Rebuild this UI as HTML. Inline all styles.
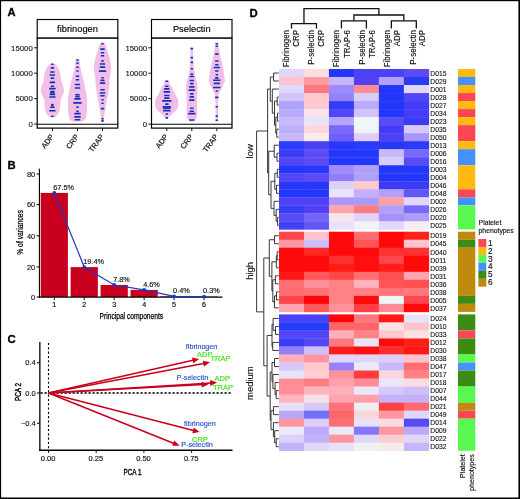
<!DOCTYPE html>
<html><head><meta charset="utf-8"><style>
html,body{margin:0;padding:0;background:#fff;width:520px;height:499px;overflow:hidden;font-family:"Liberation Sans",sans-serif;}
</style></head><body>
<svg width="520" height="499" viewBox="0 0 520 499" style="display:block;will-change:transform">
<g font-family='"Liberation Sans", sans-serif'>
<rect x="0.00" y="0.00" width="520.00" height="499.00" fill="#fff"/>
<text x="7.60" y="16.20" font-size="11.2" text-anchor="start" fill="#000" font-weight="bold" stroke="#000" stroke-width="0.3">A</text>
<rect x="37.20" y="19.5" width="80.60" height="18.6" fill="#fff" stroke="#000" stroke-width="1.15"/>
<text x="77.50" y="31.60" font-size="9.3" text-anchor="middle" fill="#000" stroke="#000" stroke-width="0.15">fibrinogen</text>
<rect x="37.20" y="38.2" width="80.60" height="89.9" fill="#fff" stroke="#000" stroke-width="1.2"/>
<line x1="34.00" y1="124.10" x2="37.20" y2="124.10" stroke="#000" stroke-width="0.9"/>
<text x="32.80" y="126.90" font-size="7.8" text-anchor="end" fill="#222" stroke="#222" stroke-width="0.15">0</text>
<line x1="34.00" y1="98.66" x2="37.20" y2="98.66" stroke="#000" stroke-width="0.9"/>
<text x="32.80" y="101.46" font-size="7.8" text-anchor="end" fill="#222" stroke="#222" stroke-width="0.15">5000</text>
<line x1="34.00" y1="73.23" x2="37.20" y2="73.23" stroke="#000" stroke-width="0.9"/>
<text x="32.80" y="76.03" font-size="7.8" text-anchor="end" fill="#222" stroke="#222" stroke-width="0.15">10000</text>
<line x1="34.00" y1="47.79" x2="37.20" y2="47.79" stroke="#000" stroke-width="0.9"/>
<text x="32.80" y="50.59" font-size="7.8" text-anchor="end" fill="#222" stroke="#222" stroke-width="0.15">15000</text>
<line x1="52.50" y1="128.10" x2="52.50" y2="131.20" stroke="#000" stroke-width="0.9"/>
<text x="54.30" y="136.80" font-size="7.5" text-anchor="end" fill="#1a1a1a" transform="rotate(-53 54.30 136.80)" stroke="#1a1a1a" stroke-width="0.22">ADP</text>
<line x1="77.50" y1="128.10" x2="77.50" y2="131.20" stroke="#000" stroke-width="0.9"/>
<text x="79.30" y="136.80" font-size="7.5" text-anchor="end" fill="#1a1a1a" transform="rotate(-53 79.30 136.80)" stroke="#1a1a1a" stroke-width="0.22">CRP</text>
<line x1="102.50" y1="128.10" x2="102.50" y2="131.20" stroke="#000" stroke-width="0.9"/>
<text x="104.30" y="136.80" font-size="7.5" text-anchor="end" fill="#1a1a1a" transform="rotate(-53 104.30 136.80)" stroke="#1a1a1a" stroke-width="0.22">TRAP</text>
<rect x="151.50" y="19.5" width="80.50" height="18.6" fill="#fff" stroke="#000" stroke-width="1.15"/>
<text x="191.75" y="31.60" font-size="9.3" text-anchor="middle" fill="#000" stroke="#000" stroke-width="0.15">Pselectin</text>
<rect x="151.50" y="38.2" width="80.50" height="89.9" fill="#fff" stroke="#000" stroke-width="1.2"/>
<line x1="148.30" y1="124.10" x2="151.50" y2="124.10" stroke="#000" stroke-width="0.9"/>
<text x="147.10" y="126.90" font-size="7.8" text-anchor="end" fill="#222" stroke="#222" stroke-width="0.15">0</text>
<line x1="148.30" y1="98.66" x2="151.50" y2="98.66" stroke="#000" stroke-width="0.9"/>
<text x="147.10" y="101.46" font-size="7.8" text-anchor="end" fill="#222" stroke="#222" stroke-width="0.15">5000</text>
<line x1="148.30" y1="73.23" x2="151.50" y2="73.23" stroke="#000" stroke-width="0.9"/>
<text x="147.10" y="76.03" font-size="7.8" text-anchor="end" fill="#222" stroke="#222" stroke-width="0.15">10000</text>
<line x1="148.30" y1="47.79" x2="151.50" y2="47.79" stroke="#000" stroke-width="0.9"/>
<text x="147.10" y="50.59" font-size="7.8" text-anchor="end" fill="#222" stroke="#222" stroke-width="0.15">15000</text>
<line x1="166.80" y1="128.10" x2="166.80" y2="131.20" stroke="#000" stroke-width="0.9"/>
<text x="168.60" y="136.80" font-size="7.5" text-anchor="end" fill="#1a1a1a" transform="rotate(-53 168.60 136.80)" stroke="#1a1a1a" stroke-width="0.22">ADP</text>
<line x1="191.80" y1="128.10" x2="191.80" y2="131.20" stroke="#000" stroke-width="0.9"/>
<text x="193.60" y="136.80" font-size="7.5" text-anchor="end" fill="#1a1a1a" transform="rotate(-53 193.60 136.80)" stroke="#1a1a1a" stroke-width="0.22">CRP</text>
<line x1="216.80" y1="128.10" x2="216.80" y2="131.20" stroke="#000" stroke-width="0.9"/>
<text x="218.60" y="136.80" font-size="7.5" text-anchor="end" fill="#1a1a1a" transform="rotate(-53 218.60 136.80)" stroke="#1a1a1a" stroke-width="0.22">TRAP</text>
<path d="M52.40,63.40 C52.73,63.47 53.90,63.65 54.40,63.80 C54.90,63.95 54.98,63.97 55.40,64.30 C55.82,64.63 56.42,65.15 56.90,65.80 C57.38,66.45 57.87,67.30 58.30,68.20 C58.73,69.10 59.15,70.20 59.50,71.20 C59.85,72.20 60.18,73.20 60.40,74.20 C60.62,75.20 60.68,76.20 60.80,77.20 C60.92,78.20 60.90,79.18 61.10,80.20 C61.30,81.22 61.67,82.28 62.00,83.30 C62.33,84.32 62.78,85.30 63.10,86.30 C63.42,87.30 63.77,88.38 63.90,89.30 C64.03,90.22 64.05,90.95 63.90,91.80 C63.75,92.65 63.37,93.53 63.00,94.40 C62.63,95.27 62.08,96.15 61.70,97.00 C61.32,97.85 60.93,98.55 60.70,99.50 C60.47,100.45 60.40,101.62 60.30,102.70 C60.20,103.78 60.18,104.92 60.10,106.00 C60.02,107.08 60.02,108.13 59.80,109.20 C59.58,110.27 59.20,111.45 58.80,112.40 C58.40,113.35 57.88,114.22 57.40,114.90 C56.92,115.58 56.48,116.08 55.90,116.50 C55.32,116.92 54.48,117.22 53.90,117.40 C53.32,117.58 52.65,117.57 52.40,117.60 C52.15,117.57 51.48,117.58 50.90,117.40 C50.32,117.22 49.48,116.92 48.90,116.50 C48.32,116.08 47.88,115.58 47.40,114.90 C46.92,114.22 46.40,113.35 46.00,112.40 C45.60,111.45 45.22,110.27 45.00,109.20 C44.78,108.13 44.78,107.08 44.70,106.00 C44.62,104.92 44.60,103.78 44.50,102.70 C44.40,101.62 44.33,100.45 44.10,99.50 C43.87,98.55 43.48,97.85 43.10,97.00 C42.72,96.15 42.17,95.27 41.80,94.40 C41.43,93.53 41.05,92.65 40.90,91.80 C40.75,90.95 40.77,90.22 40.90,89.30 C41.03,88.38 41.38,87.30 41.70,86.30 C42.02,85.30 42.47,84.32 42.80,83.30 C43.13,82.28 43.50,81.22 43.70,80.20 C43.90,79.18 43.88,78.20 44.00,77.20 C44.12,76.20 44.18,75.20 44.40,74.20 C44.62,73.20 44.95,72.20 45.30,71.20 C45.65,70.20 46.07,69.10 46.50,68.20 C46.93,67.30 47.42,66.45 47.90,65.80 C48.38,65.15 48.98,64.63 49.40,64.30 C49.82,63.97 49.90,63.95 50.40,63.80 C50.90,63.65 52.07,63.47 52.40,63.40Z" fill="#f2bee8"/>
<path d="M77.50,59.30 C77.75,59.35 78.67,59.48 79.00,59.60 C79.33,59.72 79.37,59.37 79.50,60.00 C79.63,60.63 79.63,62.13 79.80,63.40 C79.97,64.67 80.27,66.20 80.50,67.60 C80.73,69.00 80.88,70.40 81.20,71.80 C81.52,73.20 82.02,74.58 82.40,76.00 C82.78,77.42 83.15,78.88 83.50,80.30 C83.85,81.72 84.22,83.10 84.50,84.50 C84.78,85.90 85.02,87.75 85.20,88.70 C85.38,89.65 85.37,89.12 85.60,90.20 C85.83,91.28 86.35,93.17 86.60,95.20 C86.85,97.23 87.05,100.00 87.10,102.40 C87.15,104.80 87.03,107.43 86.90,109.60 C86.77,111.77 86.57,113.83 86.30,115.40 C86.03,116.97 85.72,118.10 85.30,119.00 C84.88,119.90 84.43,120.40 83.80,120.80 C83.17,121.20 82.55,121.27 81.50,121.40 C80.45,121.53 78.17,121.57 77.50,121.60 C76.83,121.57 74.55,121.53 73.50,121.40 C72.45,121.27 71.83,121.20 71.20,120.80 C70.57,120.40 70.12,119.90 69.70,119.00 C69.28,118.10 68.97,116.97 68.70,115.40 C68.43,113.83 68.23,111.77 68.10,109.60 C67.97,107.43 67.85,104.80 67.90,102.40 C67.95,100.00 68.15,97.23 68.40,95.20 C68.65,93.17 69.17,91.28 69.40,90.20 C69.63,89.12 69.62,89.65 69.80,88.70 C69.98,87.75 70.22,85.90 70.50,84.50 C70.78,83.10 71.15,81.72 71.50,80.30 C71.85,78.88 72.22,77.42 72.60,76.00 C72.98,74.58 73.48,73.20 73.80,71.80 C74.12,70.40 74.27,69.00 74.50,67.60 C74.73,66.20 75.03,64.67 75.20,63.40 C75.37,62.13 75.37,60.63 75.50,60.00 C75.63,59.37 75.67,59.72 76.00,59.60 C76.33,59.48 77.25,59.35 77.50,59.30Z" fill="#f2bee8"/>
<path d="M102.50,42.30 C102.75,42.33 103.67,42.38 104.00,42.50 C104.33,42.62 104.22,42.58 104.50,43.00 C104.78,43.42 105.33,44.10 105.70,45.00 C106.07,45.90 106.32,47.13 106.70,48.40 C107.08,49.67 107.58,51.20 108.00,52.60 C108.42,54.00 108.82,55.40 109.20,56.80 C109.58,58.20 110.02,59.60 110.30,61.00 C110.58,62.40 110.78,63.80 110.90,65.20 C111.02,66.60 111.08,68.00 111.00,69.40 C110.92,70.80 110.62,72.20 110.40,73.60 C110.18,75.00 109.85,76.65 109.70,77.80 C109.55,78.95 109.57,79.25 109.50,80.50 C109.43,81.75 109.47,83.62 109.30,85.30 C109.13,86.98 108.77,88.85 108.50,90.60 C108.23,92.35 108.00,94.05 107.70,95.80 C107.40,97.55 107.02,99.33 106.70,101.10 C106.38,102.87 106.10,104.63 105.80,106.40 C105.50,108.17 105.20,109.93 104.90,111.70 C104.60,113.47 104.22,115.38 104.00,117.00 C103.78,118.62 103.85,120.55 103.60,121.40 C103.35,122.25 102.68,121.98 102.50,122.10 C102.32,121.98 101.65,122.25 101.40,121.40 C101.15,120.55 101.22,118.62 101.00,117.00 C100.78,115.38 100.40,113.47 100.10,111.70 C99.80,109.93 99.50,108.17 99.20,106.40 C98.90,104.63 98.62,102.87 98.30,101.10 C97.98,99.33 97.60,97.55 97.30,95.80 C97.00,94.05 96.77,92.35 96.50,90.60 C96.23,88.85 95.87,86.98 95.70,85.30 C95.53,83.62 95.57,81.75 95.50,80.50 C95.43,79.25 95.45,78.95 95.30,77.80 C95.15,76.65 94.82,75.00 94.60,73.60 C94.38,72.20 94.08,70.80 94.00,69.40 C93.92,68.00 93.98,66.60 94.10,65.20 C94.22,63.80 94.42,62.40 94.70,61.00 C94.98,59.60 95.42,58.20 95.80,56.80 C96.18,55.40 96.58,54.00 97.00,52.60 C97.42,51.20 97.92,49.67 98.30,48.40 C98.68,47.13 98.93,45.90 99.30,45.00 C99.67,44.10 100.22,43.42 100.50,43.00 C100.78,42.58 100.67,42.62 101.00,42.50 C101.33,42.38 102.25,42.33 102.50,42.30Z" fill="#f2bee8"/>
<path d="M166.80,80.30 C167.13,80.35 168.33,80.08 168.80,80.60 C169.27,81.12 169.13,82.32 169.60,83.40 C170.07,84.48 170.95,85.88 171.60,87.10 C172.25,88.32 172.88,89.48 173.50,90.70 C174.12,91.92 174.65,93.17 175.30,94.40 C175.95,95.63 176.90,96.87 177.40,98.10 C177.90,99.33 178.13,100.57 178.30,101.80 C178.47,103.03 178.62,104.27 178.40,105.50 C178.18,106.73 177.68,108.12 177.00,109.20 C176.32,110.28 175.25,111.08 174.30,112.00 C173.35,112.92 172.22,113.78 171.30,114.70 C170.38,115.62 169.55,116.80 168.80,117.50 C168.05,118.20 167.13,118.67 166.80,118.90 C166.47,118.67 165.55,118.20 164.80,117.50 C164.05,116.80 163.22,115.62 162.30,114.70 C161.38,113.78 160.25,112.92 159.30,112.00 C158.35,111.08 157.28,110.28 156.60,109.20 C155.92,108.12 155.42,106.73 155.20,105.50 C154.98,104.27 155.13,103.03 155.30,101.80 C155.47,100.57 155.70,99.33 156.20,98.10 C156.70,96.87 157.65,95.63 158.30,94.40 C158.95,93.17 159.48,91.92 160.10,90.70 C160.72,89.48 161.35,88.32 162.00,87.10 C162.65,85.88 163.53,84.48 164.00,83.40 C164.47,82.32 164.33,81.12 164.80,80.60 C165.27,80.08 166.47,80.35 166.80,80.30Z" fill="#f2bee8"/>
<path d="M191.80,47.20 C192.05,47.27 193.08,46.80 193.30,47.60 C193.52,48.40 193.08,49.93 193.10,52.00 C193.12,54.07 193.28,57.60 193.40,60.00 C193.52,62.40 193.60,64.38 193.80,66.40 C194.00,68.42 194.27,70.22 194.60,72.10 C194.93,73.98 195.40,75.83 195.80,77.70 C196.20,79.57 196.73,81.92 197.00,83.30 C197.27,84.68 197.33,84.78 197.40,86.00 C197.47,87.22 197.45,88.67 197.40,90.60 C197.35,92.53 197.18,95.27 197.10,97.60 C197.02,99.93 196.93,102.25 196.90,104.60 C196.87,106.95 196.90,109.63 196.90,111.70 C196.90,113.77 197.17,115.62 196.90,117.00 C196.63,118.38 195.90,119.28 195.30,120.00 C194.70,120.72 193.88,121.05 193.30,121.30 C192.72,121.55 192.05,121.47 191.80,121.50 C191.55,121.47 190.88,121.55 190.30,121.30 C189.72,121.05 188.90,120.72 188.30,120.00 C187.70,119.28 186.97,118.38 186.70,117.00 C186.43,115.62 186.70,113.77 186.70,111.70 C186.70,109.63 186.73,106.95 186.70,104.60 C186.67,102.25 186.58,99.93 186.50,97.60 C186.42,95.27 186.25,92.53 186.20,90.60 C186.15,88.67 186.13,87.22 186.20,86.00 C186.27,84.78 186.33,84.68 186.60,83.30 C186.87,81.92 187.40,79.57 187.80,77.70 C188.20,75.83 188.67,73.98 189.00,72.10 C189.33,70.22 189.60,68.42 189.80,66.40 C190.00,64.38 190.08,62.40 190.20,60.00 C190.32,57.60 190.48,54.07 190.50,52.00 C190.52,49.93 190.08,48.40 190.30,47.60 C190.52,46.80 191.55,47.27 191.80,47.20Z" fill="#f2bee8"/>
<path d="M216.80,42.80 C217.05,42.85 218.00,42.40 218.30,43.10 C218.60,43.80 218.42,45.62 218.60,47.00 C218.78,48.38 219.13,49.93 219.40,51.40 C219.67,52.87 219.85,54.18 220.20,55.80 C220.55,57.42 221.08,59.33 221.50,61.10 C221.92,62.87 222.37,64.63 222.70,66.40 C223.03,68.17 223.20,69.85 223.50,71.70 C223.80,73.55 224.27,75.98 224.50,77.50 C224.73,79.02 225.02,79.80 224.90,80.80 C224.78,81.80 224.22,82.47 223.80,83.50 C223.38,84.53 222.95,85.82 222.40,87.00 C221.85,88.18 221.10,89.42 220.50,90.60 C219.90,91.78 219.17,92.93 218.80,94.10 C218.43,95.27 218.43,95.55 218.30,97.60 C218.17,99.65 218.05,103.47 218.00,106.40 C217.95,109.33 218.00,112.85 218.00,115.20 C218.00,117.55 218.20,119.47 218.00,120.50 C217.80,121.53 217.00,121.25 216.80,121.40 C216.60,121.25 215.80,121.53 215.60,120.50 C215.40,119.47 215.60,117.55 215.60,115.20 C215.60,112.85 215.65,109.33 215.60,106.40 C215.55,103.47 215.43,99.65 215.30,97.60 C215.17,95.55 215.17,95.27 214.80,94.10 C214.43,92.93 213.70,91.78 213.10,90.60 C212.50,89.42 211.75,88.18 211.20,87.00 C210.65,85.82 210.22,84.53 209.80,83.50 C209.38,82.47 208.82,81.80 208.70,80.80 C208.58,79.80 208.87,79.02 209.10,77.50 C209.33,75.98 209.80,73.55 210.10,71.70 C210.40,69.85 210.57,68.17 210.90,66.40 C211.23,64.63 211.68,62.87 212.10,61.10 C212.52,59.33 213.05,57.42 213.40,55.80 C213.75,54.18 213.93,52.87 214.20,51.40 C214.47,49.93 214.82,48.38 215.00,47.00 C215.18,45.62 215.00,43.80 215.30,43.10 C215.60,42.40 216.55,42.85 216.80,42.80Z" fill="#f2bee8"/>
<rect x="51.15" y="63.47" width="2.50" height="1.65" rx="0.5" fill="#1432b8"/>
<rect x="50.65" y="67.08" width="3.50" height="1.65" rx="0.5" fill="#1432b8"/>
<rect x="50.15" y="71.17" width="4.50" height="1.65" rx="0.5" fill="#1432b8"/>
<rect x="49.65" y="74.17" width="5.50" height="1.65" rx="0.5" fill="#1432b8"/>
<rect x="50.65" y="77.27" width="3.50" height="1.65" rx="0.5" fill="#1432b8"/>
<rect x="49.65" y="81.58" width="5.50" height="1.65" rx="0.5" fill="#1432b8"/>
<rect x="50.65" y="85.47" width="3.50" height="1.65" rx="0.5" fill="#1432b8"/>
<rect x="49.15" y="87.77" width="6.50" height="1.65" rx="0.5" fill="#1432b8"/>
<rect x="50.15" y="90.77" width="4.50" height="1.65" rx="0.5" fill="#1432b8"/>
<rect x="50.15" y="91.97" width="4.50" height="1.65" rx="0.5" fill="#1432b8"/>
<rect x="49.65" y="93.58" width="5.50" height="1.65" rx="0.5" fill="#1432b8"/>
<rect x="49.15" y="96.17" width="6.50" height="1.65" rx="0.5" fill="#1432b8"/>
<rect x="51.15" y="103.67" width="2.50" height="1.65" rx="0.5" fill="#1432b8"/>
<rect x="51.15" y="104.77" width="2.50" height="1.65" rx="0.5" fill="#1432b8"/>
<rect x="50.15" y="106.38" width="4.50" height="1.65" rx="0.5" fill="#1432b8"/>
<rect x="49.15" y="109.97" width="6.50" height="1.65" rx="0.5" fill="#1432b8"/>
<rect x="51.15" y="115.38" width="2.50" height="1.65" rx="0.5" fill="#1432b8"/>
<rect x="76.25" y="59.17" width="2.50" height="1.65" rx="0.5" fill="#1432b8"/>
<rect x="76.25" y="62.47" width="2.50" height="1.65" rx="0.5" fill="#1432b8"/>
<rect x="76.25" y="66.47" width="2.50" height="1.65" rx="0.5" fill="#1432b8"/>
<rect x="76.25" y="70.17" width="2.50" height="1.65" rx="0.5" fill="#1432b8"/>
<rect x="75.75" y="75.38" width="3.50" height="1.65" rx="0.5" fill="#1432b8"/>
<rect x="75.75" y="78.88" width="3.50" height="1.65" rx="0.5" fill="#1432b8"/>
<rect x="74.75" y="83.67" width="5.50" height="1.65" rx="0.5" fill="#1432b8"/>
<rect x="74.75" y="87.17" width="5.50" height="1.65" rx="0.5" fill="#1432b8"/>
<rect x="75.25" y="93.88" width="4.50" height="1.65" rx="0.5" fill="#1432b8"/>
<rect x="75.25" y="95.77" width="4.50" height="1.65" rx="0.5" fill="#1432b8"/>
<rect x="74.25" y="98.08" width="6.50" height="1.65" rx="0.5" fill="#1432b8"/>
<rect x="73.25" y="102.08" width="8.50" height="1.65" rx="0.5" fill="#1432b8"/>
<rect x="76.25" y="106.27" width="2.50" height="1.65" rx="0.5" fill="#1432b8"/>
<rect x="76.25" y="110.58" width="2.50" height="1.65" rx="0.5" fill="#1432b8"/>
<rect x="74.25" y="112.77" width="6.50" height="1.65" rx="0.5" fill="#1432b8"/>
<rect x="74.25" y="116.08" width="6.50" height="1.65" rx="0.5" fill="#1432b8"/>
<rect x="74.75" y="118.88" width="5.50" height="1.65" rx="0.5" fill="#1432b8"/>
<rect x="101.25" y="42.97" width="2.50" height="1.65" rx="0.5" fill="#1432b8"/>
<rect x="100.25" y="48.27" width="4.50" height="1.65" rx="0.5" fill="#1432b8"/>
<rect x="100.75" y="51.97" width="3.50" height="1.65" rx="0.5" fill="#1432b8"/>
<rect x="100.75" y="54.97" width="3.50" height="1.65" rx="0.5" fill="#1432b8"/>
<rect x="101.25" y="60.07" width="2.50" height="1.65" rx="0.5" fill="#1432b8"/>
<rect x="99.75" y="63.17" width="5.50" height="1.65" rx="0.5" fill="#1432b8"/>
<rect x="99.75" y="66.27" width="5.50" height="1.65" rx="0.5" fill="#1432b8"/>
<rect x="98.75" y="70.27" width="7.50" height="1.65" rx="0.5" fill="#1432b8"/>
<rect x="101.25" y="76.88" width="2.50" height="1.65" rx="0.5" fill="#1432b8"/>
<rect x="100.45" y="79.58" width="4.10" height="1.65" rx="0.5" fill="#1432b8"/>
<rect x="99.75" y="82.27" width="5.50" height="1.65" rx="0.5" fill="#1432b8"/>
<rect x="100.25" y="88.88" width="4.50" height="1.65" rx="0.5" fill="#1432b8"/>
<rect x="99.75" y="92.17" width="5.50" height="1.65" rx="0.5" fill="#1432b8"/>
<rect x="100.25" y="94.97" width="4.50" height="1.65" rx="0.5" fill="#1432b8"/>
<rect x="101.25" y="98.97" width="2.50" height="1.65" rx="0.5" fill="#1432b8"/>
<rect x="101.25" y="102.47" width="2.50" height="1.65" rx="0.5" fill="#1432b8"/>
<rect x="100.75" y="107.77" width="3.50" height="1.65" rx="0.5" fill="#1432b8"/>
<rect x="101.25" y="117.88" width="2.50" height="1.65" rx="0.5" fill="#1432b8"/>
<rect x="101.25" y="120.08" width="2.50" height="1.65" rx="0.5" fill="#1432b8"/>
<rect x="165.35" y="80.47" width="2.90" height="1.65" rx="0.5" fill="#1432b8"/>
<rect x="165.05" y="85.47" width="3.50" height="1.65" rx="0.5" fill="#1432b8"/>
<rect x="164.05" y="88.08" width="5.50" height="1.65" rx="0.5" fill="#1432b8"/>
<rect x="163.55" y="91.08" width="6.50" height="1.65" rx="0.5" fill="#1432b8"/>
<rect x="164.05" y="94.67" width="5.50" height="1.65" rx="0.5" fill="#1432b8"/>
<rect x="164.05" y="97.27" width="5.50" height="1.65" rx="0.5" fill="#1432b8"/>
<rect x="162.05" y="100.08" width="9.50" height="1.65" rx="0.5" fill="#1432b8"/>
<rect x="165.05" y="103.27" width="3.50" height="1.65" rx="0.5" fill="#1432b8"/>
<rect x="162.55" y="106.08" width="8.50" height="1.65" rx="0.5" fill="#1432b8"/>
<rect x="163.05" y="107.47" width="7.50" height="1.65" rx="0.5" fill="#1432b8"/>
<rect x="163.05" y="109.77" width="7.50" height="1.65" rx="0.5" fill="#1432b8"/>
<rect x="165.55" y="113.17" width="2.50" height="1.65" rx="0.5" fill="#1432b8"/>
<rect x="165.55" y="117.08" width="2.50" height="1.65" rx="0.5" fill="#1432b8"/>
<rect x="190.55" y="47.77" width="2.50" height="1.65" rx="0.5" fill="#1432b8"/>
<rect x="190.55" y="56.77" width="2.50" height="1.65" rx="0.5" fill="#1432b8"/>
<rect x="190.55" y="61.57" width="2.50" height="1.65" rx="0.5" fill="#1432b8"/>
<rect x="190.55" y="67.97" width="2.50" height="1.65" rx="0.5" fill="#1432b8"/>
<rect x="190.55" y="73.27" width="2.50" height="1.65" rx="0.5" fill="#1432b8"/>
<rect x="189.55" y="75.67" width="4.50" height="1.65" rx="0.5" fill="#1432b8"/>
<rect x="189.55" y="79.67" width="4.50" height="1.65" rx="0.5" fill="#1432b8"/>
<rect x="190.05" y="82.77" width="3.50" height="1.65" rx="0.5" fill="#1432b8"/>
<rect x="189.05" y="86.08" width="5.50" height="1.65" rx="0.5" fill="#1432b8"/>
<rect x="188.55" y="89.27" width="6.50" height="1.65" rx="0.5" fill="#1432b8"/>
<rect x="190.05" y="93.08" width="3.50" height="1.65" rx="0.5" fill="#1432b8"/>
<rect x="189.55" y="96.08" width="4.50" height="1.65" rx="0.5" fill="#1432b8"/>
<rect x="189.05" y="99.27" width="5.50" height="1.65" rx="0.5" fill="#1432b8"/>
<rect x="190.05" y="107.47" width="3.50" height="1.65" rx="0.5" fill="#1432b8"/>
<rect x="189.55" y="110.47" width="4.50" height="1.65" rx="0.5" fill="#1432b8"/>
<rect x="188.05" y="112.77" width="7.50" height="1.65" rx="0.5" fill="#1432b8"/>
<rect x="189.05" y="119.17" width="5.50" height="1.65" rx="0.5" fill="#1432b8"/>
<rect x="215.55" y="42.88" width="2.50" height="1.65" rx="0.5" fill="#1432b8"/>
<rect x="215.55" y="45.47" width="2.50" height="1.65" rx="0.5" fill="#1432b8"/>
<rect x="215.05" y="53.27" width="3.50" height="1.65" rx="0.5" fill="#1432b8"/>
<rect x="215.05" y="60.17" width="3.50" height="1.65" rx="0.5" fill="#1432b8"/>
<rect x="215.05" y="63.97" width="3.50" height="1.65" rx="0.5" fill="#1432b8"/>
<rect x="213.55" y="66.67" width="6.50" height="1.65" rx="0.5" fill="#1432b8"/>
<rect x="215.05" y="70.17" width="3.50" height="1.65" rx="0.5" fill="#1432b8"/>
<rect x="215.55" y="73.97" width="2.50" height="1.65" rx="0.5" fill="#1432b8"/>
<rect x="215.05" y="77.08" width="3.50" height="1.65" rx="0.5" fill="#1432b8"/>
<rect x="213.05" y="79.38" width="7.50" height="1.65" rx="0.5" fill="#1432b8"/>
<rect x="213.55" y="82.58" width="6.50" height="1.65" rx="0.5" fill="#1432b8"/>
<rect x="213.05" y="86.67" width="7.50" height="1.65" rx="0.5" fill="#1432b8"/>
<rect x="215.55" y="90.17" width="2.50" height="1.65" rx="0.5" fill="#1432b8"/>
<rect x="215.05" y="96.58" width="3.50" height="1.65" rx="0.5" fill="#1432b8"/>
<rect x="215.55" y="105.97" width="2.50" height="1.65" rx="0.5" fill="#1432b8"/>
<rect x="215.55" y="115.27" width="2.50" height="1.65" rx="0.5" fill="#1432b8"/>
<rect x="215.55" y="119.47" width="2.50" height="1.65" rx="0.5" fill="#1432b8"/>
<line x1="37.20" y1="124.20" x2="117.80" y2="124.20" stroke="#000" stroke-width="1.1"/>
<line x1="151.50" y1="124.20" x2="232.00" y2="124.20" stroke="#000" stroke-width="1.1"/>
<text x="7.60" y="169.00" font-size="11.3" text-anchor="start" fill="#000" font-weight="bold" stroke="#000" stroke-width="0.3">B</text>
<rect x="40.70" y="192.91" width="27.20" height="104.09" fill="#c8001e"/>
<rect x="70.65" y="267.09" width="27.20" height="29.91" fill="#c8001e"/>
<rect x="100.60" y="284.97" width="27.20" height="12.03" fill="#c8001e"/>
<rect x="130.55" y="289.91" width="27.20" height="7.09" fill="#c8001e"/>
<rect x="160.50" y="296.38" width="27.20" height="0.62" fill="#c8001e"/>
<rect x="190.45" y="296.54" width="27.20" height="0.46" fill="#c8001e"/>
<line x1="39.45" y1="168.70" x2="39.45" y2="297.60" stroke="#000" stroke-width="1.15"/>
<line x1="38.90" y1="297.05" x2="222.50" y2="297.05" stroke="#000" stroke-width="1.3"/>
<line x1="36.60" y1="297.00" x2="39.45" y2="297.00" stroke="#000" stroke-width="1.0"/>
<text x="35.20" y="299.70" font-size="7.4" text-anchor="end" fill="#111" stroke="#111" stroke-width="0.15">0</text>
<line x1="36.60" y1="267.00" x2="39.45" y2="267.00" stroke="#000" stroke-width="1.0"/>
<text x="35.20" y="269.70" font-size="7.4" text-anchor="end" fill="#111" stroke="#111" stroke-width="0.15">20</text>
<line x1="36.60" y1="235.80" x2="39.45" y2="235.80" stroke="#000" stroke-width="1.0"/>
<text x="35.20" y="238.50" font-size="7.4" text-anchor="end" fill="#111" stroke="#111" stroke-width="0.15">40</text>
<line x1="36.60" y1="204.60" x2="39.45" y2="204.60" stroke="#000" stroke-width="1.0"/>
<text x="35.20" y="207.30" font-size="7.4" text-anchor="end" fill="#111" stroke="#111" stroke-width="0.15">60</text>
<line x1="36.60" y1="174.00" x2="39.45" y2="174.00" stroke="#000" stroke-width="1.0"/>
<text x="35.20" y="176.70" font-size="7.4" text-anchor="end" fill="#111" stroke="#111" stroke-width="0.15">80</text>
<line x1="54.30" y1="297.20" x2="54.30" y2="300.20" stroke="#000" stroke-width="0.9"/>
<text x="54.30" y="307.20" font-size="7.2" text-anchor="middle" fill="#111" stroke="#111" stroke-width="0.18">1</text>
<line x1="84.25" y1="297.20" x2="84.25" y2="300.20" stroke="#000" stroke-width="0.9"/>
<text x="84.25" y="307.20" font-size="7.2" text-anchor="middle" fill="#111" stroke="#111" stroke-width="0.18">2</text>
<line x1="114.20" y1="297.20" x2="114.20" y2="300.20" stroke="#000" stroke-width="0.9"/>
<text x="114.20" y="307.20" font-size="7.2" text-anchor="middle" fill="#111" stroke="#111" stroke-width="0.18">3</text>
<line x1="144.15" y1="297.20" x2="144.15" y2="300.20" stroke="#000" stroke-width="0.9"/>
<text x="144.15" y="307.20" font-size="7.2" text-anchor="middle" fill="#111" stroke="#111" stroke-width="0.18">4</text>
<line x1="174.10" y1="297.20" x2="174.10" y2="300.20" stroke="#000" stroke-width="0.9"/>
<text x="174.10" y="307.20" font-size="7.2" text-anchor="middle" fill="#111" stroke="#111" stroke-width="0.18">5</text>
<line x1="204.05" y1="297.20" x2="204.05" y2="300.20" stroke="#000" stroke-width="0.9"/>
<text x="204.05" y="307.20" font-size="7.2" text-anchor="middle" fill="#111" stroke="#111" stroke-width="0.18">6</text>
<polyline points="54.30,192.91 84.25,267.09 114.20,284.97 144.15,289.91 174.10,296.38 204.05,296.54" fill="none" stroke="#1a3bc0" stroke-width="1.2"/>
<circle cx="54.30" cy="192.91" r="1.9" fill="#1a3bc0"/>
<circle cx="84.25" cy="267.09" r="1.9" fill="#1a3bc0"/>
<circle cx="114.20" cy="284.97" r="1.9" fill="#1a3bc0"/>
<circle cx="144.15" cy="289.91" r="1.9" fill="#1a3bc0"/>
<circle cx="174.10" cy="296.38" r="1.9" fill="#1a3bc0"/>
<circle cx="204.05" cy="296.54" r="1.9" fill="#1a3bc0"/>
<text x="53.30" y="189.61" font-size="7.3" text-anchor="start" fill="#111" stroke="#111" stroke-width="0.15">67.5%</text>
<text x="83.25" y="263.79" font-size="7.3" text-anchor="start" fill="#111" stroke="#111" stroke-width="0.15">19.4%</text>
<text x="113.20" y="281.67" font-size="7.3" text-anchor="start" fill="#111" stroke="#111" stroke-width="0.15">7.8%</text>
<text x="143.15" y="286.61" font-size="7.3" text-anchor="start" fill="#111" stroke="#111" stroke-width="0.15">4.6%</text>
<text x="173.10" y="293.08" font-size="7.3" text-anchor="start" fill="#111" stroke="#111" stroke-width="0.15">0.4%</text>
<text x="203.05" y="293.24" font-size="7.3" text-anchor="start" fill="#111" stroke="#111" stroke-width="0.15">0.3%</text>
<text x="99.60" y="318.70" font-size="8.9" text-anchor="start" fill="#000" textLength="63.5" lengthAdjust="spacingAndGlyphs" stroke="#000" stroke-width="0.25">Principal components</text>
<text x="23.20" y="254.80" font-size="8.9" text-anchor="start" fill="#000" textLength="44.6" lengthAdjust="spacingAndGlyphs" transform="rotate(-90 23.20 254.80)" stroke="#000" stroke-width="0.25">% of variances</text>
<text x="7.60" y="342.60" font-size="11.4" text-anchor="start" fill="#000" font-weight="bold" stroke="#000" stroke-width="0.3">C</text>
<line x1="39.85" y1="342.00" x2="39.85" y2="450.90" stroke="#000" stroke-width="1.3"/>
<line x1="39.20" y1="450.20" x2="232.50" y2="450.20" stroke="#000" stroke-width="1.4"/>
<line x1="37.00" y1="362.76" x2="39.85" y2="362.76" stroke="#000" stroke-width="1.0"/>
<text x="35.80" y="365.46" font-size="7.5" text-anchor="end" fill="#111" stroke="#111" stroke-width="0.15">0.4</text>
<line x1="37.00" y1="393.00" x2="39.85" y2="393.00" stroke="#000" stroke-width="1.0"/>
<text x="35.80" y="395.70" font-size="7.5" text-anchor="end" fill="#111" stroke="#111" stroke-width="0.15">0.0</text>
<line x1="37.00" y1="423.24" x2="39.85" y2="423.24" stroke="#000" stroke-width="1.0"/>
<text x="35.80" y="425.94" font-size="7.5" text-anchor="end" fill="#111" stroke="#111" stroke-width="0.15">−0.4</text>
<line x1="48.50" y1="450.20" x2="48.50" y2="452.80" stroke="#000" stroke-width="1.0"/>
<text x="48.10" y="460.80" font-size="7.5" text-anchor="middle" fill="#111" stroke="#111" stroke-width="0.15">0.00</text>
<line x1="96.20" y1="450.20" x2="96.20" y2="452.80" stroke="#000" stroke-width="1.0"/>
<text x="95.80" y="460.80" font-size="7.5" text-anchor="middle" fill="#111" stroke="#111" stroke-width="0.15">0.25</text>
<line x1="143.90" y1="450.20" x2="143.90" y2="452.80" stroke="#000" stroke-width="1.0"/>
<text x="143.50" y="460.80" font-size="7.5" text-anchor="middle" fill="#111" stroke="#111" stroke-width="0.15">0.50</text>
<line x1="191.60" y1="450.20" x2="191.60" y2="452.80" stroke="#000" stroke-width="1.0"/>
<text x="191.20" y="460.80" font-size="7.5" text-anchor="middle" fill="#111" stroke="#111" stroke-width="0.15">0.75</text>
<line x1="48.5" y1="343.0" x2="48.5" y2="449.5" stroke="#000" stroke-width="1.15" stroke-dasharray="2.1,2.2"/>
<line x1="40.5" y1="393.0" x2="232" y2="393.0" stroke="#000" stroke-width="1.4" stroke-dasharray="2.3,1.7"/>
<line x1="48.40" y1="393.00" x2="194.03" y2="360.07" stroke="#c8001e" stroke-width="1.6"/>
<polygon points="199.20,358.90 193.21,363.23 191.93,357.57" fill="#c8001e"/>
<line x1="48.40" y1="393.00" x2="204.79" y2="363.29" stroke="#c8001e" stroke-width="1.6"/>
<polygon points="210.00,362.30 203.86,366.42 202.78,360.72" fill="#c8001e"/>
<line x1="48.40" y1="393.00" x2="203.21" y2="384.49" stroke="#c8001e" stroke-width="1.6"/>
<polygon points="208.50,384.20 201.87,387.47 201.55,381.68" fill="#c8001e"/>
<line x1="48.40" y1="393.00" x2="211.71" y2="382.93" stroke="#c8001e" stroke-width="1.6"/>
<polygon points="217.00,382.60 210.39,385.91 210.03,380.12" fill="#c8001e"/>
<line x1="48.40" y1="393.00" x2="194.47" y2="430.77" stroke="#c8001e" stroke-width="1.6"/>
<polygon points="199.60,432.10 192.29,433.21 193.74,427.59" fill="#c8001e"/>
<line x1="48.40" y1="393.00" x2="174.68" y2="443.72" stroke="#c8001e" stroke-width="1.6"/>
<polygon points="179.60,445.70 172.21,445.86 174.37,440.47" fill="#c8001e"/>
<text x="185.80" y="348.80" font-size="7.2" text-anchor="start" fill="#2850c8" stroke="#2850c8" stroke-width="0.15">fibrinogen</text>
<text x="197.00" y="357.40" font-size="7.5" text-anchor="start" fill="#40e01a" stroke="#40e01a" stroke-width="0.15">ADP</text>
<text x="210.50" y="360.50" font-size="7.5" text-anchor="start" fill="#40e01a" stroke="#40e01a" stroke-width="0.15">TRAP</text>
<text x="176.60" y="380.00" font-size="7.2" text-anchor="start" fill="#2850c8" stroke="#2850c8" stroke-width="0.15">P-selectin</text>
<text x="214.60" y="381.10" font-size="7.5" text-anchor="start" fill="#40e01a" stroke="#40e01a" stroke-width="0.15">ADP</text>
<text x="213.00" y="390.30" font-size="7.5" text-anchor="start" fill="#40e01a" stroke="#40e01a" stroke-width="0.15">TRAP</text>
<text x="184.10" y="425.70" font-size="7.2" text-anchor="start" fill="#2850c8" stroke="#2850c8" stroke-width="0.15">fibrinogen</text>
<text x="192.00" y="441.70" font-size="7.5" text-anchor="start" fill="#40e01a" stroke="#40e01a" stroke-width="0.15">CRP</text>
<text x="181.20" y="447.00" font-size="7.2" text-anchor="start" fill="#2850c8" stroke="#2850c8" stroke-width="0.15">P-selectin</text>
<text x="123.50" y="475.20" font-size="9.5" text-anchor="start" fill="#000" textLength="18.0" lengthAdjust="spacingAndGlyphs" stroke="#000" stroke-width="0.4">PCA 1</text>
<text x="20.80" y="401.00" font-size="9.5" text-anchor="start" fill="#000" textLength="18.0" lengthAdjust="spacingAndGlyphs" transform="rotate(-90 20.80 401.00)" stroke="#000" stroke-width="0.4">PCA 2</text>
<text x="249.60" y="16.50" font-size="11.4" text-anchor="start" fill="#000" font-weight="bold" stroke="#000" stroke-width="0.3">D</text>
<rect x="279.00" y="69.00" width="25.27" height="8.32" fill="#ded7fa"/>
<rect x="303.97" y="69.00" width="25.27" height="8.32" fill="#fadee1"/>
<rect x="328.94" y="69.00" width="25.27" height="8.32" fill="#2337fa"/>
<rect x="353.91" y="69.00" width="25.27" height="8.32" fill="#4b41f5"/>
<rect x="378.88" y="69.00" width="25.27" height="8.32" fill="#4b41f5"/>
<rect x="403.85" y="69.00" width="25.27" height="8.32" fill="#5f4bf5"/>
<rect x="279.00" y="77.02" width="25.27" height="8.32" fill="#ffc3cd"/>
<rect x="303.97" y="77.02" width="25.27" height="8.32" fill="#ff9ba0"/>
<rect x="328.94" y="77.02" width="25.27" height="8.32" fill="#c8b4fa"/>
<rect x="353.91" y="77.02" width="25.27" height="8.32" fill="#5041f5"/>
<rect x="378.88" y="77.02" width="25.27" height="8.32" fill="#b4a0fa"/>
<rect x="403.85" y="77.02" width="25.27" height="8.32" fill="#283cf5"/>
<rect x="279.00" y="85.04" width="25.27" height="8.32" fill="#e1d7fa"/>
<rect x="303.97" y="85.04" width="25.27" height="8.32" fill="#ff787d"/>
<rect x="328.94" y="85.04" width="25.27" height="8.32" fill="#9b8cfa"/>
<rect x="353.91" y="85.04" width="25.27" height="8.32" fill="#ff8c91"/>
<rect x="378.88" y="85.04" width="25.27" height="8.32" fill="#2337fa"/>
<rect x="403.85" y="85.04" width="25.27" height="8.32" fill="#e1d7fa"/>
<rect x="279.00" y="93.06" width="25.27" height="8.32" fill="#d2c3fa"/>
<rect x="303.97" y="93.06" width="25.27" height="8.32" fill="#ffc8cd"/>
<rect x="328.94" y="93.06" width="25.27" height="8.32" fill="#9182fa"/>
<rect x="353.91" y="93.06" width="25.27" height="8.32" fill="#d7cdfa"/>
<rect x="378.88" y="93.06" width="25.27" height="8.32" fill="#2337fa"/>
<rect x="403.85" y="93.06" width="25.27" height="8.32" fill="#5546f5"/>
<rect x="279.00" y="101.08" width="25.27" height="8.32" fill="#afa0fa"/>
<rect x="303.97" y="101.08" width="25.27" height="8.32" fill="#ffc8cd"/>
<rect x="328.94" y="101.08" width="25.27" height="8.32" fill="#323cf5"/>
<rect x="353.91" y="101.08" width="25.27" height="8.32" fill="#b9aafa"/>
<rect x="378.88" y="101.08" width="25.27" height="8.32" fill="#2337fa"/>
<rect x="403.85" y="101.08" width="25.27" height="8.32" fill="#413cf5"/>
<rect x="279.00" y="109.10" width="25.27" height="8.32" fill="#b9aafa"/>
<rect x="303.97" y="109.10" width="25.27" height="8.32" fill="#f8e4eb"/>
<rect x="328.94" y="109.10" width="25.27" height="8.32" fill="#5046f5"/>
<rect x="353.91" y="109.10" width="25.27" height="8.32" fill="#d2c3fa"/>
<rect x="378.88" y="109.10" width="25.27" height="8.32" fill="#2337fa"/>
<rect x="403.85" y="109.10" width="25.27" height="8.32" fill="#463cf5"/>
<rect x="279.00" y="117.12" width="25.27" height="8.32" fill="#c8b9fa"/>
<rect x="303.97" y="117.12" width="25.27" height="8.32" fill="#e8e4fa"/>
<rect x="328.94" y="117.12" width="25.27" height="8.32" fill="#b4a5fa"/>
<rect x="353.91" y="117.12" width="25.27" height="8.32" fill="#f0f5f5"/>
<rect x="378.88" y="117.12" width="25.27" height="8.32" fill="#5a4bf5"/>
<rect x="403.85" y="117.12" width="25.27" height="8.32" fill="#3c3cf5"/>
<rect x="279.00" y="125.14" width="25.27" height="8.32" fill="#beaffa"/>
<rect x="303.97" y="125.14" width="25.27" height="8.32" fill="#fad7dc"/>
<rect x="328.94" y="125.14" width="25.27" height="8.32" fill="#7869fa"/>
<rect x="353.91" y="125.14" width="25.27" height="8.32" fill="#f0f5f5"/>
<rect x="378.88" y="125.14" width="25.27" height="8.32" fill="#463cf5"/>
<rect x="403.85" y="125.14" width="25.27" height="8.32" fill="#d7c8fa"/>
<rect x="279.00" y="133.16" width="25.27" height="8.32" fill="#c8b9fa"/>
<rect x="303.97" y="133.16" width="25.27" height="8.32" fill="#faebeb"/>
<rect x="328.94" y="133.16" width="25.27" height="8.32" fill="#6e5ffa"/>
<rect x="353.91" y="133.16" width="25.27" height="8.32" fill="#e1cdfa"/>
<rect x="378.88" y="133.16" width="25.27" height="8.32" fill="#4b41f5"/>
<rect x="403.85" y="133.16" width="25.27" height="8.32" fill="#aa96fa"/>
<rect x="279.00" y="141.18" width="25.27" height="8.32" fill="#283cfa"/>
<rect x="303.97" y="141.18" width="25.27" height="8.32" fill="#4641f5"/>
<rect x="328.94" y="141.18" width="25.27" height="8.32" fill="#2837fa"/>
<rect x="353.91" y="141.18" width="25.27" height="8.32" fill="#283cfa"/>
<rect x="378.88" y="141.18" width="25.27" height="8.32" fill="#2837f5"/>
<rect x="403.85" y="141.18" width="25.27" height="8.32" fill="#283cfa"/>
<rect x="279.00" y="149.20" width="25.27" height="8.32" fill="#3c3cf5"/>
<rect x="303.97" y="149.20" width="25.27" height="8.32" fill="#5a4bf5"/>
<rect x="328.94" y="149.20" width="25.27" height="8.32" fill="#2337fa"/>
<rect x="353.91" y="149.20" width="25.27" height="8.32" fill="#2337fa"/>
<rect x="378.88" y="149.20" width="25.27" height="8.32" fill="#c8b9fa"/>
<rect x="403.85" y="149.20" width="25.27" height="8.32" fill="#7869fa"/>
<rect x="279.00" y="157.22" width="25.27" height="8.32" fill="#5546f5"/>
<rect x="303.97" y="157.22" width="25.27" height="8.32" fill="#5f4bf5"/>
<rect x="328.94" y="157.22" width="25.27" height="8.32" fill="#2337fa"/>
<rect x="353.91" y="157.22" width="25.27" height="8.32" fill="#2337fa"/>
<rect x="378.88" y="157.22" width="25.27" height="8.32" fill="#d7cdfa"/>
<rect x="403.85" y="157.22" width="25.27" height="8.32" fill="#5a4bf5"/>
<rect x="279.00" y="165.24" width="25.27" height="8.32" fill="#2337fa"/>
<rect x="303.97" y="165.24" width="25.27" height="8.32" fill="#2837fa"/>
<rect x="328.94" y="165.24" width="25.27" height="8.32" fill="#a08cfa"/>
<rect x="353.91" y="165.24" width="25.27" height="8.32" fill="#afa0fa"/>
<rect x="378.88" y="165.24" width="25.27" height="8.32" fill="#2337fa"/>
<rect x="403.85" y="165.24" width="25.27" height="8.32" fill="#2337fa"/>
<rect x="279.00" y="173.26" width="25.27" height="8.32" fill="#5546f5"/>
<rect x="303.97" y="173.26" width="25.27" height="8.32" fill="#5f4bf5"/>
<rect x="328.94" y="173.26" width="25.27" height="8.32" fill="#917dfa"/>
<rect x="353.91" y="173.26" width="25.27" height="8.32" fill="#afa0fa"/>
<rect x="378.88" y="173.26" width="25.27" height="8.32" fill="#2337fa"/>
<rect x="403.85" y="173.26" width="25.27" height="8.32" fill="#2337fa"/>
<rect x="279.00" y="181.28" width="25.27" height="8.32" fill="#2837fa"/>
<rect x="303.97" y="181.28" width="25.27" height="8.32" fill="#2837fa"/>
<rect x="328.94" y="181.28" width="25.27" height="8.32" fill="#dcd2fa"/>
<rect x="353.91" y="181.28" width="25.27" height="8.32" fill="#ffc8cd"/>
<rect x="378.88" y="181.28" width="25.27" height="8.32" fill="#3c3cf5"/>
<rect x="403.85" y="181.28" width="25.27" height="8.32" fill="#3c3cf5"/>
<rect x="279.00" y="189.30" width="25.27" height="8.32" fill="#2337fa"/>
<rect x="303.97" y="189.30" width="25.27" height="8.32" fill="#2337fa"/>
<rect x="328.94" y="189.30" width="25.27" height="8.32" fill="#e8e4fa"/>
<rect x="353.91" y="189.30" width="25.27" height="8.32" fill="#c3affa"/>
<rect x="378.88" y="189.30" width="25.27" height="8.32" fill="#b4a0fa"/>
<rect x="403.85" y="189.30" width="25.27" height="8.32" fill="#6455f5"/>
<rect x="279.00" y="197.32" width="25.27" height="8.32" fill="#5041f5"/>
<rect x="303.97" y="197.32" width="25.27" height="8.32" fill="#5041f5"/>
<rect x="328.94" y="197.32" width="25.27" height="8.32" fill="#af96fa"/>
<rect x="353.91" y="197.32" width="25.27" height="8.32" fill="#aa9bfa"/>
<rect x="378.88" y="197.32" width="25.27" height="8.32" fill="#ffa0a5"/>
<rect x="403.85" y="197.32" width="25.27" height="8.32" fill="#e1d7fa"/>
<rect x="279.00" y="205.34" width="25.27" height="8.32" fill="#373cf5"/>
<rect x="303.97" y="205.34" width="25.27" height="8.32" fill="#5041f5"/>
<rect x="328.94" y="205.34" width="25.27" height="8.32" fill="#ffa5aa"/>
<rect x="353.91" y="205.34" width="25.27" height="8.32" fill="#ff7d82"/>
<rect x="378.88" y="205.34" width="25.27" height="8.32" fill="#afa0fa"/>
<rect x="403.85" y="205.34" width="25.27" height="8.32" fill="#7869fa"/>
<rect x="279.00" y="213.36" width="25.27" height="8.32" fill="#5a4bf5"/>
<rect x="303.97" y="213.36" width="25.27" height="8.32" fill="#7364fa"/>
<rect x="328.94" y="213.36" width="25.27" height="8.32" fill="#f5e6eb"/>
<rect x="353.91" y="213.36" width="25.27" height="8.32" fill="#e1d2fa"/>
<rect x="378.88" y="213.36" width="25.27" height="8.32" fill="#a591fa"/>
<rect x="403.85" y="213.36" width="25.27" height="8.32" fill="#af9bfa"/>
<rect x="279.00" y="221.38" width="25.27" height="8.32" fill="#4641f5"/>
<rect x="303.97" y="221.38" width="25.27" height="8.32" fill="#6455f5"/>
<rect x="328.94" y="221.38" width="25.27" height="8.32" fill="#e8e1fa"/>
<rect x="353.91" y="221.38" width="25.27" height="8.32" fill="#f0f2f5"/>
<rect x="378.88" y="221.38" width="25.27" height="8.32" fill="#e1d7fa"/>
<rect x="403.85" y="221.38" width="25.27" height="8.32" fill="#f5eef0"/>
<rect x="279.00" y="231.70" width="25.27" height="8.32" fill="#ff464b"/>
<rect x="303.97" y="231.70" width="25.27" height="8.32" fill="#ffc3cd"/>
<rect x="328.94" y="231.70" width="25.27" height="8.32" fill="#ff0a0a"/>
<rect x="353.91" y="231.70" width="25.27" height="8.32" fill="#ff6e73"/>
<rect x="378.88" y="231.70" width="25.27" height="8.32" fill="#ff0a0a"/>
<rect x="403.85" y="231.70" width="25.27" height="8.32" fill="#ff231e"/>
<rect x="279.00" y="239.72" width="25.27" height="8.32" fill="#ff96a0"/>
<rect x="303.97" y="239.72" width="25.27" height="8.32" fill="#c8befa"/>
<rect x="328.94" y="239.72" width="25.27" height="8.32" fill="#ff0a0a"/>
<rect x="353.91" y="239.72" width="25.27" height="8.32" fill="#ff555a"/>
<rect x="378.88" y="239.72" width="25.27" height="8.32" fill="#ff0a0a"/>
<rect x="403.85" y="239.72" width="25.27" height="8.32" fill="#ffc3cd"/>
<rect x="279.00" y="247.74" width="25.27" height="8.32" fill="#ff0a0a"/>
<rect x="303.97" y="247.74" width="25.27" height="8.32" fill="#ff2823"/>
<rect x="328.94" y="247.74" width="25.27" height="8.32" fill="#ff0a0a"/>
<rect x="353.91" y="247.74" width="25.27" height="8.32" fill="#ff0a0a"/>
<rect x="378.88" y="247.74" width="25.27" height="8.32" fill="#ff3232"/>
<rect x="403.85" y="247.74" width="25.27" height="8.32" fill="#ff3232"/>
<rect x="279.00" y="255.76" width="25.27" height="8.32" fill="#ff0a0a"/>
<rect x="303.97" y="255.76" width="25.27" height="8.32" fill="#ff0a0a"/>
<rect x="328.94" y="255.76" width="25.27" height="8.32" fill="#ff3232"/>
<rect x="353.91" y="255.76" width="25.27" height="8.32" fill="#ff0f0f"/>
<rect x="378.88" y="255.76" width="25.27" height="8.32" fill="#ff464b"/>
<rect x="403.85" y="255.76" width="25.27" height="8.32" fill="#ff0a0a"/>
<rect x="279.00" y="263.78" width="25.27" height="8.32" fill="#ff0a0a"/>
<rect x="303.97" y="263.78" width="25.27" height="8.32" fill="#ff0a0a"/>
<rect x="328.94" y="263.78" width="25.27" height="8.32" fill="#ff1e14"/>
<rect x="353.91" y="263.78" width="25.27" height="8.32" fill="#ff0f0f"/>
<rect x="378.88" y="263.78" width="25.27" height="8.32" fill="#ff1e19"/>
<rect x="403.85" y="263.78" width="25.27" height="8.32" fill="#ff0a0a"/>
<rect x="279.00" y="271.80" width="25.27" height="8.32" fill="#ff1914"/>
<rect x="303.97" y="271.80" width="25.27" height="8.32" fill="#ff5a5a"/>
<rect x="328.94" y="271.80" width="25.27" height="8.32" fill="#ff4646"/>
<rect x="353.91" y="271.80" width="25.27" height="8.32" fill="#ff6e73"/>
<rect x="378.88" y="271.80" width="25.27" height="8.32" fill="#ff5050"/>
<rect x="403.85" y="271.80" width="25.27" height="8.32" fill="#ffa5af"/>
<rect x="279.00" y="279.82" width="25.27" height="8.32" fill="#ff6e73"/>
<rect x="303.97" y="279.82" width="25.27" height="8.32" fill="#ff919b"/>
<rect x="328.94" y="279.82" width="25.27" height="8.32" fill="#ff8287"/>
<rect x="353.91" y="279.82" width="25.27" height="8.32" fill="#ffb4be"/>
<rect x="378.88" y="279.82" width="25.27" height="8.32" fill="#ff5555"/>
<rect x="403.85" y="279.82" width="25.27" height="8.32" fill="#ff5050"/>
<rect x="279.00" y="287.84" width="25.27" height="8.32" fill="#ff6e73"/>
<rect x="303.97" y="287.84" width="25.27" height="8.32" fill="#ff7378"/>
<rect x="328.94" y="287.84" width="25.27" height="8.32" fill="#ff8287"/>
<rect x="353.91" y="287.84" width="25.27" height="8.32" fill="#ff8287"/>
<rect x="378.88" y="287.84" width="25.27" height="8.32" fill="#ff7378"/>
<rect x="403.85" y="287.84" width="25.27" height="8.32" fill="#ff787d"/>
<rect x="279.00" y="295.86" width="25.27" height="8.32" fill="#ff464b"/>
<rect x="303.97" y="295.86" width="25.27" height="8.32" fill="#ff050a"/>
<rect x="328.94" y="295.86" width="25.27" height="8.32" fill="#ff8287"/>
<rect x="353.91" y="295.86" width="25.27" height="8.32" fill="#ff0a0a"/>
<rect x="378.88" y="295.86" width="25.27" height="8.32" fill="#f0f5f5"/>
<rect x="403.85" y="295.86" width="25.27" height="8.32" fill="#ff464b"/>
<rect x="279.00" y="303.88" width="25.27" height="8.32" fill="#ffa5af"/>
<rect x="303.97" y="303.88" width="25.27" height="8.32" fill="#ff5a5a"/>
<rect x="328.94" y="303.88" width="25.27" height="8.32" fill="#ff919b"/>
<rect x="353.91" y="303.88" width="25.27" height="8.32" fill="#ff4146"/>
<rect x="378.88" y="303.88" width="25.27" height="8.32" fill="#ff8c96"/>
<rect x="403.85" y="303.88" width="25.27" height="8.32" fill="#ff0a0a"/>
<rect x="279.00" y="314.40" width="25.27" height="8.32" fill="#4b41f5"/>
<rect x="303.97" y="314.40" width="25.27" height="8.32" fill="#4b41f5"/>
<rect x="328.94" y="314.40" width="25.27" height="8.32" fill="#ff050a"/>
<rect x="353.91" y="314.40" width="25.27" height="8.32" fill="#ff787d"/>
<rect x="378.88" y="314.40" width="25.27" height="8.32" fill="#ff1914"/>
<rect x="403.85" y="314.40" width="25.27" height="8.32" fill="#e8e1fa"/>
<rect x="279.00" y="322.42" width="25.27" height="8.32" fill="#233cfa"/>
<rect x="303.97" y="322.42" width="25.27" height="8.32" fill="#233cfa"/>
<rect x="328.94" y="322.42" width="25.27" height="8.32" fill="#ff6469"/>
<rect x="353.91" y="322.42" width="25.27" height="8.32" fill="#ff6469"/>
<rect x="378.88" y="322.42" width="25.27" height="8.32" fill="#fae1e6"/>
<rect x="403.85" y="322.42" width="25.27" height="8.32" fill="#ffc3cd"/>
<rect x="279.00" y="330.44" width="25.27" height="8.32" fill="#5046f5"/>
<rect x="303.97" y="330.44" width="25.27" height="8.32" fill="#5046f5"/>
<rect x="328.94" y="330.44" width="25.27" height="8.32" fill="#ffafb9"/>
<rect x="353.91" y="330.44" width="25.27" height="8.32" fill="#ff8287"/>
<rect x="378.88" y="330.44" width="25.27" height="8.32" fill="#ffc8cd"/>
<rect x="403.85" y="330.44" width="25.27" height="8.32" fill="#fae1e4"/>
<rect x="279.00" y="338.46" width="25.27" height="8.32" fill="#3c3cf5"/>
<rect x="303.97" y="338.46" width="25.27" height="8.32" fill="#5546f5"/>
<rect x="328.94" y="338.46" width="25.27" height="8.32" fill="#ff787d"/>
<rect x="353.91" y="338.46" width="25.27" height="8.32" fill="#e8e4fa"/>
<rect x="378.88" y="338.46" width="25.27" height="8.32" fill="#ff0a0a"/>
<rect x="403.85" y="338.46" width="25.27" height="8.32" fill="#ff1e14"/>
<rect x="279.00" y="346.48" width="25.27" height="8.32" fill="#917dfa"/>
<rect x="303.97" y="346.48" width="25.27" height="8.32" fill="#cdbefa"/>
<rect x="328.94" y="346.48" width="25.27" height="8.32" fill="#ff1e19"/>
<rect x="353.91" y="346.48" width="25.27" height="8.32" fill="#ff0f0f"/>
<rect x="378.88" y="346.48" width="25.27" height="8.32" fill="#ff2d2d"/>
<rect x="403.85" y="346.48" width="25.27" height="8.32" fill="#ff1914"/>
<rect x="279.00" y="354.50" width="25.27" height="8.32" fill="#ffafb9"/>
<rect x="303.97" y="354.50" width="25.27" height="8.32" fill="#ff96a0"/>
<rect x="328.94" y="354.50" width="25.27" height="8.32" fill="#e1d7fa"/>
<rect x="353.91" y="354.50" width="25.27" height="8.32" fill="#e1d2fa"/>
<rect x="378.88" y="354.50" width="25.27" height="8.32" fill="#dccdfa"/>
<rect x="403.85" y="354.50" width="25.27" height="8.32" fill="#ffc3cd"/>
<rect x="279.00" y="362.52" width="25.27" height="8.32" fill="#d7c8fa"/>
<rect x="303.97" y="362.52" width="25.27" height="8.32" fill="#ffc8cd"/>
<rect x="328.94" y="362.52" width="25.27" height="8.32" fill="#9682fa"/>
<rect x="353.91" y="362.52" width="25.27" height="8.32" fill="#ebe8f8"/>
<rect x="378.88" y="362.52" width="25.27" height="8.32" fill="#c8b9fa"/>
<rect x="403.85" y="362.52" width="25.27" height="8.32" fill="#ff6e73"/>
<rect x="279.00" y="370.54" width="25.27" height="8.32" fill="#e8e4fa"/>
<rect x="303.97" y="370.54" width="25.27" height="8.32" fill="#ffcdd2"/>
<rect x="328.94" y="370.54" width="25.27" height="8.32" fill="#ff919b"/>
<rect x="353.91" y="370.54" width="25.27" height="8.32" fill="#ff3c3c"/>
<rect x="378.88" y="370.54" width="25.27" height="8.32" fill="#fad7dc"/>
<rect x="403.85" y="370.54" width="25.27" height="8.32" fill="#ff8287"/>
<rect x="279.00" y="378.56" width="25.27" height="8.32" fill="#ff8c96"/>
<rect x="303.97" y="378.56" width="25.27" height="8.32" fill="#ff7d82"/>
<rect x="328.94" y="378.56" width="25.27" height="8.32" fill="#ffa0aa"/>
<rect x="353.91" y="378.56" width="25.27" height="8.32" fill="#ff8c96"/>
<rect x="378.88" y="378.56" width="25.27" height="8.32" fill="#ebe6fa"/>
<rect x="403.85" y="378.56" width="25.27" height="8.32" fill="#fadce1"/>
<rect x="279.00" y="386.58" width="25.27" height="8.32" fill="#ff8c96"/>
<rect x="303.97" y="386.58" width="25.27" height="8.32" fill="#ffb4be"/>
<rect x="328.94" y="386.58" width="25.27" height="8.32" fill="#ffafb9"/>
<rect x="353.91" y="386.58" width="25.27" height="8.32" fill="#ebe6f8"/>
<rect x="378.88" y="386.58" width="25.27" height="8.32" fill="#d7c8fa"/>
<rect x="403.85" y="386.58" width="25.27" height="8.32" fill="#cdbefa"/>
<rect x="279.00" y="394.60" width="25.27" height="8.32" fill="#ffb4be"/>
<rect x="303.97" y="394.60" width="25.27" height="8.32" fill="#f8e1e4"/>
<rect x="328.94" y="394.60" width="25.27" height="8.32" fill="#ffa5af"/>
<rect x="353.91" y="394.60" width="25.27" height="8.32" fill="#ffa0aa"/>
<rect x="378.88" y="394.60" width="25.27" height="8.32" fill="#c3b4fa"/>
<rect x="403.85" y="394.60" width="25.27" height="8.32" fill="#c3affa"/>
<rect x="279.00" y="402.62" width="25.27" height="8.32" fill="#e6e1fa"/>
<rect x="303.97" y="402.62" width="25.27" height="8.32" fill="#d7c8fa"/>
<rect x="328.94" y="402.62" width="25.27" height="8.32" fill="#ff7378"/>
<rect x="353.91" y="402.62" width="25.27" height="8.32" fill="#f0eef0"/>
<rect x="378.88" y="402.62" width="25.27" height="8.32" fill="#ff4141"/>
<rect x="403.85" y="402.62" width="25.27" height="8.32" fill="#ff696e"/>
<rect x="279.00" y="410.64" width="25.27" height="8.32" fill="#b9a5fa"/>
<rect x="303.97" y="410.64" width="25.27" height="8.32" fill="#736efa"/>
<rect x="328.94" y="410.64" width="25.27" height="8.32" fill="#ff6469"/>
<rect x="353.91" y="410.64" width="25.27" height="8.32" fill="#fad7dc"/>
<rect x="378.88" y="410.64" width="25.27" height="8.32" fill="#ff96a0"/>
<rect x="403.85" y="410.64" width="25.27" height="8.32" fill="#e1d7fa"/>
<rect x="279.00" y="418.66" width="25.27" height="8.32" fill="#ff96a0"/>
<rect x="303.97" y="418.66" width="25.27" height="8.32" fill="#dccdfa"/>
<rect x="328.94" y="418.66" width="25.27" height="8.32" fill="#ff6e73"/>
<rect x="353.91" y="418.66" width="25.27" height="8.32" fill="#e8e1fa"/>
<rect x="378.88" y="418.66" width="25.27" height="8.32" fill="#fadce1"/>
<rect x="403.85" y="418.66" width="25.27" height="8.32" fill="#554bf5"/>
<rect x="279.00" y="426.68" width="25.27" height="8.32" fill="#ebe8f8"/>
<rect x="303.97" y="426.68" width="25.27" height="8.32" fill="#beaafa"/>
<rect x="328.94" y="426.68" width="25.27" height="8.32" fill="#ebe8fa"/>
<rect x="353.91" y="426.68" width="25.27" height="8.32" fill="#8778fa"/>
<rect x="378.88" y="426.68" width="25.27" height="8.32" fill="#ff96a0"/>
<rect x="403.85" y="426.68" width="25.27" height="8.32" fill="#beaafa"/>
<rect x="279.00" y="434.70" width="25.27" height="8.32" fill="#dcd2fa"/>
<rect x="303.97" y="434.70" width="25.27" height="8.32" fill="#c3b4fa"/>
<rect x="328.94" y="434.70" width="25.27" height="8.32" fill="#ff96a0"/>
<rect x="353.91" y="434.70" width="25.27" height="8.32" fill="#e1d7fa"/>
<rect x="378.88" y="434.70" width="25.27" height="8.32" fill="#ffcdd2"/>
<rect x="403.85" y="434.70" width="25.27" height="8.32" fill="#e1d7fa"/>
<rect x="279.00" y="442.72" width="25.27" height="8.32" fill="#c3b4fa"/>
<rect x="303.97" y="442.72" width="25.27" height="8.32" fill="#e1d7fa"/>
<rect x="328.94" y="442.72" width="25.27" height="8.32" fill="#e8e1fa"/>
<rect x="353.91" y="442.72" width="25.27" height="8.32" fill="#f0f2f2"/>
<rect x="378.88" y="442.72" width="25.27" height="8.32" fill="#f5ebeb"/>
<rect x="403.85" y="442.72" width="25.27" height="8.32" fill="#c8b4fa"/>
<text x="430.30" y="75.76" font-size="7.3" text-anchor="start" fill="#111" textLength="16.1" lengthAdjust="spacingAndGlyphs" stroke="#111" stroke-width="0.12">D015</text>
<text x="430.30" y="83.78" font-size="7.3" text-anchor="start" fill="#111" textLength="16.1" lengthAdjust="spacingAndGlyphs" stroke="#111" stroke-width="0.12">D029</text>
<text x="430.30" y="91.80" font-size="7.3" text-anchor="start" fill="#111" textLength="16.1" lengthAdjust="spacingAndGlyphs" stroke="#111" stroke-width="0.12">D001</text>
<text x="430.30" y="99.82" font-size="7.3" text-anchor="start" fill="#111" textLength="16.1" lengthAdjust="spacingAndGlyphs" stroke="#111" stroke-width="0.12">D028</text>
<text x="430.30" y="107.84" font-size="7.3" text-anchor="start" fill="#111" textLength="16.1" lengthAdjust="spacingAndGlyphs" stroke="#111" stroke-width="0.12">D027</text>
<text x="430.30" y="115.86" font-size="7.3" text-anchor="start" fill="#111" textLength="16.1" lengthAdjust="spacingAndGlyphs" stroke="#111" stroke-width="0.12">D034</text>
<text x="430.30" y="123.88" font-size="7.3" text-anchor="start" fill="#111" textLength="16.1" lengthAdjust="spacingAndGlyphs" stroke="#111" stroke-width="0.12">D023</text>
<text x="430.30" y="131.90" font-size="7.3" text-anchor="start" fill="#111" textLength="16.1" lengthAdjust="spacingAndGlyphs" stroke="#111" stroke-width="0.12">D035</text>
<text x="430.30" y="139.92" font-size="7.3" text-anchor="start" fill="#111" textLength="16.1" lengthAdjust="spacingAndGlyphs" stroke="#111" stroke-width="0.12">D050</text>
<text x="430.30" y="147.94" font-size="7.3" text-anchor="start" fill="#111" textLength="16.1" lengthAdjust="spacingAndGlyphs" stroke="#111" stroke-width="0.12">D013</text>
<text x="430.30" y="155.96" font-size="7.3" text-anchor="start" fill="#111" textLength="16.1" lengthAdjust="spacingAndGlyphs" stroke="#111" stroke-width="0.12">D006</text>
<text x="430.30" y="163.98" font-size="7.3" text-anchor="start" fill="#111" textLength="16.1" lengthAdjust="spacingAndGlyphs" stroke="#111" stroke-width="0.12">D016</text>
<text x="430.30" y="172.00" font-size="7.3" text-anchor="start" fill="#111" textLength="16.1" lengthAdjust="spacingAndGlyphs" stroke="#111" stroke-width="0.12">D003</text>
<text x="430.30" y="180.02" font-size="7.3" text-anchor="start" fill="#111" textLength="16.1" lengthAdjust="spacingAndGlyphs" stroke="#111" stroke-width="0.12">D004</text>
<text x="430.30" y="188.04" font-size="7.3" text-anchor="start" fill="#111" textLength="16.1" lengthAdjust="spacingAndGlyphs" stroke="#111" stroke-width="0.12">D046</text>
<text x="430.30" y="196.06" font-size="7.3" text-anchor="start" fill="#111" textLength="16.1" lengthAdjust="spacingAndGlyphs" stroke="#111" stroke-width="0.12">D048</text>
<text x="430.30" y="204.08" font-size="7.3" text-anchor="start" fill="#111" textLength="16.1" lengthAdjust="spacingAndGlyphs" stroke="#111" stroke-width="0.12">D002</text>
<text x="430.30" y="212.10" font-size="7.3" text-anchor="start" fill="#111" textLength="16.1" lengthAdjust="spacingAndGlyphs" stroke="#111" stroke-width="0.12">D026</text>
<text x="430.30" y="220.12" font-size="7.3" text-anchor="start" fill="#111" textLength="16.1" lengthAdjust="spacingAndGlyphs" stroke="#111" stroke-width="0.12">D020</text>
<text x="430.30" y="228.14" font-size="7.3" text-anchor="start" fill="#111" textLength="16.1" lengthAdjust="spacingAndGlyphs" stroke="#111" stroke-width="0.12">D025</text>
<text x="430.30" y="238.46" font-size="7.3" text-anchor="start" fill="#111" textLength="16.1" lengthAdjust="spacingAndGlyphs" stroke="#111" stroke-width="0.12">D019</text>
<text x="430.30" y="246.48" font-size="7.3" text-anchor="start" fill="#111" textLength="16.1" lengthAdjust="spacingAndGlyphs" stroke="#111" stroke-width="0.12">D045</text>
<text x="430.30" y="254.50" font-size="7.3" text-anchor="start" fill="#111" textLength="16.1" lengthAdjust="spacingAndGlyphs" stroke="#111" stroke-width="0.12">D040</text>
<text x="430.30" y="262.52" font-size="7.3" text-anchor="start" fill="#111" textLength="16.1" lengthAdjust="spacingAndGlyphs" stroke="#111" stroke-width="0.12">D011</text>
<text x="430.30" y="270.54" font-size="7.3" text-anchor="start" fill="#111" textLength="16.1" lengthAdjust="spacingAndGlyphs" stroke="#111" stroke-width="0.12">D039</text>
<text x="430.30" y="278.56" font-size="7.3" text-anchor="start" fill="#111" textLength="16.1" lengthAdjust="spacingAndGlyphs" stroke="#111" stroke-width="0.12">D031</text>
<text x="430.30" y="286.58" font-size="7.3" text-anchor="start" fill="#111" textLength="16.1" lengthAdjust="spacingAndGlyphs" stroke="#111" stroke-width="0.12">D036</text>
<text x="430.30" y="294.60" font-size="7.3" text-anchor="start" fill="#111" textLength="16.1" lengthAdjust="spacingAndGlyphs" stroke="#111" stroke-width="0.12">D038</text>
<text x="430.30" y="302.62" font-size="7.3" text-anchor="start" fill="#111" textLength="16.1" lengthAdjust="spacingAndGlyphs" stroke="#111" stroke-width="0.12">D005</text>
<text x="430.30" y="310.64" font-size="7.3" text-anchor="start" fill="#111" textLength="16.1" lengthAdjust="spacingAndGlyphs" stroke="#111" stroke-width="0.12">D037</text>
<text x="430.30" y="321.16" font-size="7.3" text-anchor="start" fill="#111" textLength="16.1" lengthAdjust="spacingAndGlyphs" stroke="#111" stroke-width="0.12">D024</text>
<text x="430.30" y="329.18" font-size="7.3" text-anchor="start" fill="#111" textLength="16.1" lengthAdjust="spacingAndGlyphs" stroke="#111" stroke-width="0.12">D010</text>
<text x="430.30" y="337.20" font-size="7.3" text-anchor="start" fill="#111" textLength="16.1" lengthAdjust="spacingAndGlyphs" stroke="#111" stroke-width="0.12">D033</text>
<text x="430.30" y="345.22" font-size="7.3" text-anchor="start" fill="#111" textLength="16.1" lengthAdjust="spacingAndGlyphs" stroke="#111" stroke-width="0.12">D012</text>
<text x="430.30" y="353.24" font-size="7.3" text-anchor="start" fill="#111" textLength="16.1" lengthAdjust="spacingAndGlyphs" stroke="#111" stroke-width="0.12">D030</text>
<text x="430.30" y="361.26" font-size="7.3" text-anchor="start" fill="#111" textLength="16.1" lengthAdjust="spacingAndGlyphs" stroke="#111" stroke-width="0.12">D038</text>
<text x="430.30" y="369.28" font-size="7.3" text-anchor="start" fill="#111" textLength="16.1" lengthAdjust="spacingAndGlyphs" stroke="#111" stroke-width="0.12">D047</text>
<text x="430.30" y="377.30" font-size="7.3" text-anchor="start" fill="#111" textLength="16.1" lengthAdjust="spacingAndGlyphs" stroke="#111" stroke-width="0.12">D017</text>
<text x="430.30" y="385.32" font-size="7.3" text-anchor="start" fill="#111" textLength="16.1" lengthAdjust="spacingAndGlyphs" stroke="#111" stroke-width="0.12">D018</text>
<text x="430.30" y="393.34" font-size="7.3" text-anchor="start" fill="#111" textLength="16.1" lengthAdjust="spacingAndGlyphs" stroke="#111" stroke-width="0.12">D007</text>
<text x="430.30" y="401.36" font-size="7.3" text-anchor="start" fill="#111" textLength="16.1" lengthAdjust="spacingAndGlyphs" stroke="#111" stroke-width="0.12">D044</text>
<text x="430.30" y="409.38" font-size="7.3" text-anchor="start" fill="#111" textLength="16.1" lengthAdjust="spacingAndGlyphs" stroke="#111" stroke-width="0.12">D021</text>
<text x="430.30" y="417.40" font-size="7.3" text-anchor="start" fill="#111" textLength="16.1" lengthAdjust="spacingAndGlyphs" stroke="#111" stroke-width="0.12">D049</text>
<text x="430.30" y="425.42" font-size="7.3" text-anchor="start" fill="#111" textLength="16.1" lengthAdjust="spacingAndGlyphs" stroke="#111" stroke-width="0.12">D014</text>
<text x="430.30" y="433.44" font-size="7.3" text-anchor="start" fill="#111" textLength="16.1" lengthAdjust="spacingAndGlyphs" stroke="#111" stroke-width="0.12">D009</text>
<text x="430.30" y="441.46" font-size="7.3" text-anchor="start" fill="#111" textLength="16.1" lengthAdjust="spacingAndGlyphs" stroke="#111" stroke-width="0.12">D022</text>
<text x="430.30" y="449.48" font-size="7.3" text-anchor="start" fill="#111" textLength="16.1" lengthAdjust="spacingAndGlyphs" stroke="#111" stroke-width="0.12">D032</text>
<rect x="458.00" y="69.00" width="17.30" height="8.02" fill="#ffb90f"/>
<rect x="458.00" y="77.02" width="17.30" height="8.02" fill="#4691ff"/>
<rect x="458.00" y="85.04" width="17.30" height="8.02" fill="#ffb90f"/>
<rect x="458.00" y="93.06" width="17.30" height="8.02" fill="#fa4655"/>
<rect x="458.00" y="101.08" width="17.30" height="8.02" fill="#ffb90f"/>
<rect x="458.00" y="109.10" width="17.30" height="8.02" fill="#fa4655"/>
<rect x="458.00" y="117.12" width="17.30" height="8.02" fill="#ffb90f"/>
<rect x="458.00" y="125.14" width="17.30" height="16.04" fill="#fa4655"/>
<rect x="458.00" y="141.18" width="17.30" height="8.02" fill="#ffb90f"/>
<rect x="458.00" y="149.20" width="17.30" height="16.04" fill="#4691ff"/>
<rect x="458.00" y="165.24" width="17.30" height="24.06" fill="#ffb90f"/>
<rect x="458.00" y="189.30" width="17.30" height="8.02" fill="#fa4655"/>
<rect x="458.00" y="197.32" width="17.30" height="8.02" fill="#4691ff"/>
<rect x="458.00" y="205.34" width="17.30" height="24.06" fill="#58f850"/>
<rect x="458.00" y="231.70" width="17.30" height="8.02" fill="#c08a0c"/>
<rect x="458.00" y="239.72" width="17.30" height="8.02" fill="#3c8c14"/>
<rect x="458.00" y="247.74" width="17.30" height="48.12" fill="#c08a0c"/>
<rect x="458.00" y="295.86" width="17.30" height="8.02" fill="#3c8c14"/>
<rect x="458.00" y="303.88" width="17.30" height="8.02" fill="#c08a0c"/>
<rect x="458.00" y="314.40" width="17.30" height="16.04" fill="#3c8c14"/>
<rect x="458.00" y="330.44" width="17.30" height="8.02" fill="#fa4655"/>
<rect x="458.00" y="338.46" width="17.30" height="16.04" fill="#3c8c14"/>
<rect x="458.00" y="354.50" width="17.30" height="8.02" fill="#58f850"/>
<rect x="458.00" y="362.52" width="17.30" height="8.02" fill="#4691ff"/>
<rect x="458.00" y="370.54" width="17.30" height="16.04" fill="#3c8c14"/>
<rect x="458.00" y="386.58" width="17.30" height="16.04" fill="#58f850"/>
<rect x="458.00" y="402.62" width="17.30" height="8.02" fill="#c08a0c"/>
<rect x="458.00" y="410.64" width="17.30" height="8.02" fill="#fa4655"/>
<rect x="458.00" y="418.66" width="17.30" height="32.08" fill="#58f850"/>
<text x="288.74" y="30.00" font-size="8.3" text-anchor="end" fill="#111" textLength="37.33" lengthAdjust="spacingAndGlyphs" transform="rotate(-90 288.74 30.00)" stroke="#111" stroke-width="0.15">Fibrinogen</text>
<text x="299.04" y="30.00" font-size="8.3" text-anchor="end" fill="#111" textLength="16.68" lengthAdjust="spacingAndGlyphs" transform="rotate(-90 299.04 30.00)" stroke="#111" stroke-width="0.15">CRP</text>
<text x="314.05" y="30.00" font-size="8.3" text-anchor="end" fill="#111" textLength="34.68" lengthAdjust="spacingAndGlyphs" transform="rotate(-90 314.05 30.00)" stroke="#111" stroke-width="0.15">P-selectin</text>
<text x="324.31" y="30.00" font-size="8.3" text-anchor="end" fill="#111" textLength="16.68" lengthAdjust="spacingAndGlyphs" transform="rotate(-90 324.31 30.00)" stroke="#111" stroke-width="0.15">CRP</text>
<text x="339.48" y="30.00" font-size="8.3" text-anchor="end" fill="#111" textLength="37.33" lengthAdjust="spacingAndGlyphs" transform="rotate(-90 339.48 30.00)" stroke="#111" stroke-width="0.15">Fibrinogen</text>
<text x="349.57" y="30.00" font-size="8.3" text-anchor="end" fill="#111" textLength="28.09" lengthAdjust="spacingAndGlyphs" transform="rotate(-90 349.57 30.00)" stroke="#111" stroke-width="0.15">TRAP-6</text>
<text x="364.79" y="30.00" font-size="8.3" text-anchor="end" fill="#111" textLength="34.68" lengthAdjust="spacingAndGlyphs" transform="rotate(-90 364.79 30.00)" stroke="#111" stroke-width="0.15">P-selectin</text>
<text x="374.84" y="30.00" font-size="8.3" text-anchor="end" fill="#111" textLength="28.09" lengthAdjust="spacingAndGlyphs" transform="rotate(-90 374.84 30.00)" stroke="#111" stroke-width="0.15">TRAP-6</text>
<text x="390.21" y="30.00" font-size="8.3" text-anchor="end" fill="#111" textLength="37.33" lengthAdjust="spacingAndGlyphs" transform="rotate(-90 390.21 30.00)" stroke="#111" stroke-width="0.15">Fibrinogen</text>
<text x="400.12" y="30.00" font-size="8.3" text-anchor="end" fill="#111" textLength="16.24" lengthAdjust="spacingAndGlyphs" transform="rotate(-90 400.12 30.00)" stroke="#111" stroke-width="0.15">ADP</text>
<text x="415.53" y="30.00" font-size="8.3" text-anchor="end" fill="#111" textLength="34.68" lengthAdjust="spacingAndGlyphs" transform="rotate(-90 415.53 30.00)" stroke="#111" stroke-width="0.15">P-selectin</text>
<text x="425.38" y="30.00" font-size="8.3" text-anchor="end" fill="#111" textLength="16.24" lengthAdjust="spacingAndGlyphs" transform="rotate(-90 425.38 30.00)" stroke="#111" stroke-width="0.15">ADP</text>
<path d="M291.49,28.50 V23.60 H316.45 V28.50" stroke="#111" stroke-width="1.3" fill="none"/>
<path d="M341.43,28.50 V20.80 H366.39 V28.50" stroke="#111" stroke-width="1.3" fill="none"/>
<path d="M391.37,28.50 V20.80 H416.33 V28.50" stroke="#111" stroke-width="1.3" fill="none"/>
<path d="M353.91,20.80 V15.00 H403.85 V20.80" stroke="#111" stroke-width="1.3" fill="none"/>
<path d="M303.97,23.60 V8.70 H378.88 V15.00" stroke="#111" stroke-width="1.3" fill="none"/>
<text x="253.30" y="158.50" font-size="9.5" text-anchor="start" fill="#111" transform="rotate(-90 253.30 158.50)" stroke="#111" stroke-width="0.15">low</text>
<text x="253.30" y="279.80" font-size="9.5" text-anchor="start" fill="#111" transform="rotate(-90 253.30 279.80)" stroke="#111" stroke-width="0.15">high</text>
<text x="253.30" y="400.00" font-size="9.5" text-anchor="start" fill="#111" transform="rotate(-90 253.30 400.00)" stroke="#111" stroke-width="0.15">medium</text>
<text x="478.60" y="224.60" font-size="6.8" text-anchor="start" fill="#111" stroke="#111" stroke-width="0.15">Platelet</text>
<text x="478.60" y="232.90" font-size="6.8" text-anchor="start" fill="#111" stroke="#111" stroke-width="0.15">phenotypes</text>
<rect x="478.40" y="239.00" width="7.90" height="7.95" fill="#fa4655"/>
<text x="488.00" y="245.60" font-size="8.2" text-anchor="start" fill="#111" stroke="#111" stroke-width="0.15">1</text>
<rect x="478.40" y="246.95" width="7.90" height="7.95" fill="#ffb90f"/>
<text x="488.00" y="253.55" font-size="8.2" text-anchor="start" fill="#111" stroke="#111" stroke-width="0.15">2</text>
<rect x="478.40" y="254.90" width="7.90" height="7.95" fill="#58f850"/>
<text x="488.00" y="261.50" font-size="8.2" text-anchor="start" fill="#111" stroke="#111" stroke-width="0.15">3</text>
<rect x="478.40" y="262.85" width="7.90" height="7.95" fill="#4691ff"/>
<text x="488.00" y="269.45" font-size="8.2" text-anchor="start" fill="#111" stroke="#111" stroke-width="0.15">4</text>
<rect x="478.40" y="270.80" width="7.90" height="7.95" fill="#3c8c14"/>
<text x="488.00" y="277.40" font-size="8.2" text-anchor="start" fill="#111" stroke="#111" stroke-width="0.15">5</text>
<rect x="478.40" y="278.75" width="7.90" height="7.95" fill="#c08a0c"/>
<text x="488.00" y="285.35" font-size="8.2" text-anchor="start" fill="#111" stroke="#111" stroke-width="0.15">6</text>
<text x="464.60" y="454.20" font-size="7.1" text-anchor="end" fill="#111" transform="rotate(-90 464.60 454.20)" stroke="#111" stroke-width="0.15">Platelet</text>
<text x="474.40" y="454.20" font-size="7.1" text-anchor="end" fill="#111" transform="rotate(-90 474.40 454.20)" stroke="#111" stroke-width="0.15">phenotypes</text>
<path d="M278.80,73.01 H273.60 V81.03 H278.80" stroke="#222" stroke-width="0.9" fill="none"/>
<path d="M278.80,97.07 H277.20 V105.09 H278.80" stroke="#222" stroke-width="0.9" fill="none"/>
<path d="M278.80,113.11 H277.50 V121.13 H278.80" stroke="#222" stroke-width="0.9" fill="none"/>
<path d="M278.80,129.15 H276.80 V137.17 H278.80" stroke="#222" stroke-width="0.9" fill="none"/>
<path d="M277.50,117.12 H275.80 V133.16 H276.80" stroke="#222" stroke-width="0.9" fill="none"/>
<path d="M277.20,101.08 H274.50 V125.14 H275.80" stroke="#222" stroke-width="0.9" fill="none"/>
<path d="M278.80,89.05 H272.30 V113.11 H274.50" stroke="#222" stroke-width="0.9" fill="none"/>
<path d="M273.60,77.02 H270.30 V101.08 H272.30" stroke="#222" stroke-width="0.9" fill="none"/>
<path d="M278.80,153.21 H277.00 V161.23 H278.80" stroke="#222" stroke-width="0.9" fill="none"/>
<path d="M278.80,145.19 H274.20 V157.22 H277.00" stroke="#222" stroke-width="0.9" fill="none"/>
<path d="M278.80,169.25 H277.30 V177.27 H278.80" stroke="#222" stroke-width="0.9" fill="none"/>
<path d="M278.80,185.29 H276.50 V193.31 H278.80" stroke="#222" stroke-width="0.9" fill="none"/>
<path d="M277.30,173.26 H274.80 V189.30 H276.50" stroke="#222" stroke-width="0.9" fill="none"/>
<path d="M278.80,217.37 H277.60 V225.39 H278.80" stroke="#222" stroke-width="0.9" fill="none"/>
<path d="M278.80,209.35 H276.20 V221.38 H277.60" stroke="#222" stroke-width="0.9" fill="none"/>
<path d="M278.80,201.33 H274.00 V215.37 H276.20" stroke="#222" stroke-width="0.9" fill="none"/>
<path d="M274.80,181.28 H271.00 V208.35 H274.00" stroke="#222" stroke-width="0.9" fill="none"/>
<path d="M274.20,151.20 H268.70 V194.81 H271.00" stroke="#222" stroke-width="0.9" fill="none"/>
<path d="M270.30,89.05 H267.60 V173.01 H268.70" stroke="#222" stroke-width="0.9" fill="none"/>
<path d="M278.80,235.71 H274.50 V243.73 H278.80" stroke="#222" stroke-width="0.9" fill="none"/>
<path d="M278.80,251.75 H277.20 V259.77 H278.80" stroke="#222" stroke-width="0.9" fill="none"/>
<path d="M277.20,255.76 H276.30 V267.79 H278.80" stroke="#222" stroke-width="0.9" fill="none"/>
<path d="M278.80,275.81 H275.40 V283.83 H278.80" stroke="#222" stroke-width="0.9" fill="none"/>
<path d="M278.80,291.85 H276.50 V299.87 H278.80" stroke="#222" stroke-width="0.9" fill="none"/>
<path d="M276.50,295.86 H274.50 V307.89 H278.80" stroke="#222" stroke-width="0.9" fill="none"/>
<path d="M275.40,279.82 H272.80 V301.88 H274.50" stroke="#222" stroke-width="0.9" fill="none"/>
<path d="M276.30,261.77 H271.90 V290.85 H272.80" stroke="#222" stroke-width="0.9" fill="none"/>
<path d="M274.50,239.72 H269.30 V276.31 H271.90" stroke="#222" stroke-width="0.9" fill="none"/>
<path d="M278.80,326.43 H275.50 V334.45 H278.80" stroke="#222" stroke-width="0.9" fill="none"/>
<path d="M278.80,318.41 H273.10 V330.44 H275.50" stroke="#222" stroke-width="0.9" fill="none"/>
<path d="M278.80,342.47 H272.70 V350.49 H278.80" stroke="#222" stroke-width="0.9" fill="none"/>
<path d="M273.10,324.42 H272.00 V346.48 H272.70" stroke="#222" stroke-width="0.9" fill="none"/>
<path d="M278.80,358.51 H274.50 V366.53 H278.80" stroke="#222" stroke-width="0.9" fill="none"/>
<path d="M278.80,390.59 H276.20 V398.61 H278.80" stroke="#222" stroke-width="0.9" fill="none"/>
<path d="M278.80,382.57 H275.10 V394.60 H276.20" stroke="#222" stroke-width="0.9" fill="none"/>
<path d="M278.80,374.55 H272.90 V388.58 H275.10" stroke="#222" stroke-width="0.9" fill="none"/>
<path d="M274.50,362.52 H272.00 V381.57 H272.90" stroke="#222" stroke-width="0.9" fill="none"/>
<path d="M278.80,406.63 H273.40 V414.65 H278.80" stroke="#222" stroke-width="0.9" fill="none"/>
<path d="M278.80,438.71 H276.20 V446.73 H278.80" stroke="#222" stroke-width="0.9" fill="none"/>
<path d="M278.80,430.69 H274.70 V442.72 H276.20" stroke="#222" stroke-width="0.9" fill="none"/>
<path d="M278.80,422.67 H273.40 V436.70 H274.70" stroke="#222" stroke-width="0.9" fill="none"/>
<path d="M273.40,410.64 H271.00 V429.69 H273.40" stroke="#222" stroke-width="0.9" fill="none"/>
<path d="M272.00,372.04 H270.20 V420.16 H271.00" stroke="#222" stroke-width="0.9" fill="none"/>
<path d="M272.00,335.45 H267.10 V396.10 H270.20" stroke="#222" stroke-width="0.9" fill="none"/>
<path d="M269.30,258.02 H263.8 V365.78 H267.10" stroke="#222" stroke-width="0.9" fill="none"/>
<path d="M267.60,131.03 H256.6 V311.90 H263.8" stroke="#222" stroke-width="0.9" fill="none"/>
<rect x="0.00" y="0.00" width="520.00" height="1.20" fill="#000"/>
<rect x="0.00" y="0.00" width="1.10" height="499.00" fill="#000"/>
<rect x="518.40" y="0.00" width="1.60" height="499.00" fill="#000"/>
<rect x="0.00" y="497.50" width="520.00" height="1.50" fill="#000"/>
</g></svg>
</body></html>
